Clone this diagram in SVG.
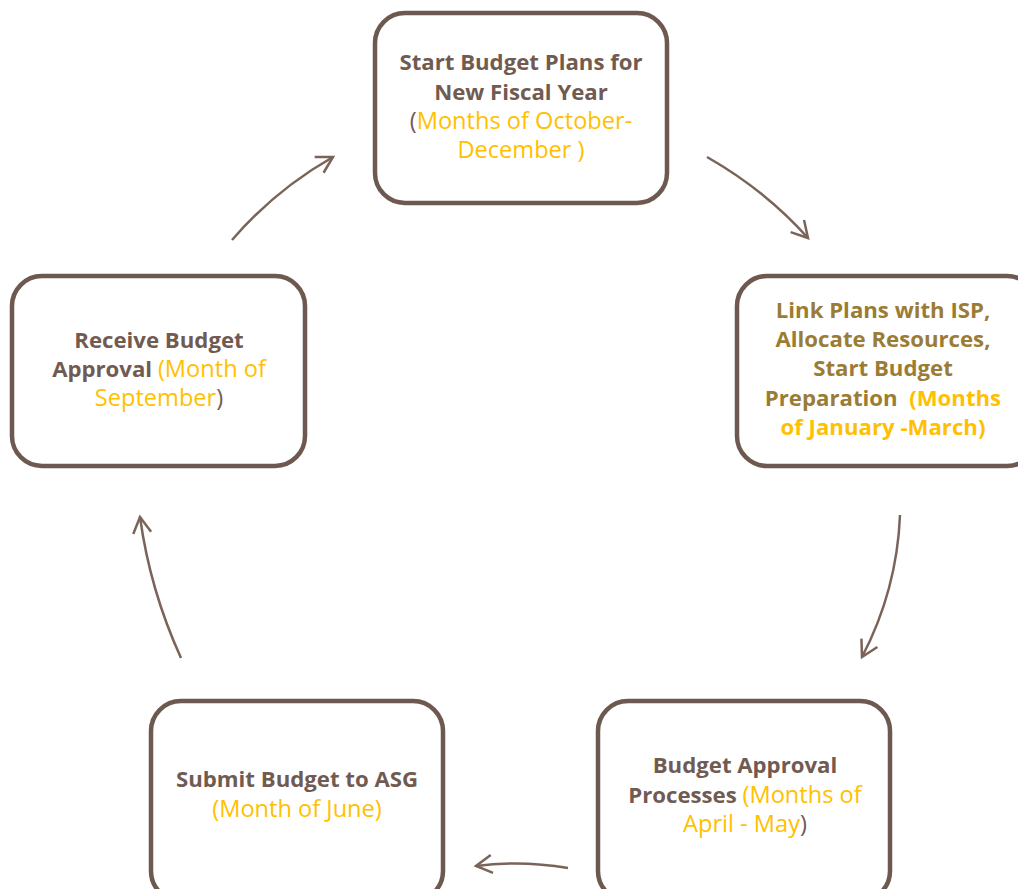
<svg xmlns="http://www.w3.org/2000/svg" width="1018" height="889" viewBox="0 0 1018 889">
<style>
.box{fill:#fff;stroke:#6e5950;stroke-width:4.5}
.t{font-family:"Open Sans",Lato,"Liberation Sans",sans-serif;font-size:22.2px;text-anchor:middle}
.b{font-weight:bold;fill:#715b51}
.y{fill:#ffc000;font-weight:normal;font-size:23.6px}
.g{font-weight:bold;fill:#9b7c34}
.yb{fill:#ffc000;font-weight:bold}
.p{fill:#715b51;font-weight:normal;font-size:23.6px}
.c{fill:none;stroke:#7a645a;stroke-width:2.5}
</style>
<defs>
<marker id="ah" markerUnits="userSpaceOnUse" markerWidth="24" markerHeight="24" viewBox="0 0 24 24" refX="20" refY="12" orient="auto">
<path d="M4,3 L20,12 L4,21" fill="none" stroke="#7a645a" stroke-width="2.5"/>
</marker>
</defs>
<rect width="1018" height="889" fill="#fff"/>
<g id="connectors">
<path class="c" d="M707,157 Q765,190 808,238" marker-end="url(#ah)"/>
<path class="c" d="M900,515 Q897,590 862,657" marker-end="url(#ah)"/>
<path class="c" d="M568,868 Q522,860 476,866" marker-end="url(#ah)"/>
<path class="c" d="M181,658 Q150,590 140,517" marker-end="url(#ah)"/>
<path class="c" d="M232,240 Q275,190 333,157" marker-end="url(#ah)"/>
</g>
<g id="node-start">
<rect class="box" x="375" y="13" width="292" height="190" rx="30"/>
<text class="t" x="521" y="70"><tspan class="b">Start Budget Plans for</tspan></text>
<text class="t" x="521" y="100"><tspan class="b">New Fiscal Year</tspan></text>
<text class="t" x="521" y="129"><tspan class="p">(</tspan><tspan class="y">Months of October-</tspan></text>
<text class="t" x="521" y="158"><tspan class="y">December )</tspan></text>
</g>
<g id="node-link">
<rect class="box" x="737" y="276" width="300" height="190" rx="30"/>
<text class="t" x="883" y="318"><tspan class="g">Link Plans with ISP,</tspan></text>
<text class="t" x="883" y="347"><tspan class="g">Allocate Resources,</tspan></text>
<text class="t" x="883" y="376"><tspan class="g">Start Budget</tspan></text>
<text class="t" x="883" y="406" xml:space="preserve"><tspan class="g">Preparation  </tspan><tspan class="yb">(Months</tspan></text>
<text class="t" x="883" y="435"><tspan class="yb">of January -March)</tspan></text>
</g>
<g id="node-approval">
<rect class="box" x="598" y="701" width="292" height="200" rx="30"/>
<text class="t" x="745" y="773"><tspan class="b">Budget Approval</tspan></text>
<text class="t" x="745" y="803"><tspan class="b">Processes </tspan><tspan class="y">(Months of</tspan></text>
<text class="t" x="745" y="832"><tspan class="y">April - May</tspan><tspan class="p">)</tspan></text>
</g>
<g id="node-submit">
<rect class="box" x="151" y="701" width="292" height="200" rx="30"/>
<text class="t" x="297" y="787"><tspan class="b">Submit Budget to ASG</tspan></text>
<text class="t" x="297" y="817"><tspan class="y">(Month of June)</tspan></text>
</g>
<g id="node-receive">
<rect class="box" x="12" y="276" width="293" height="190" rx="30"/>
<text class="t" x="159" y="348"><tspan class="b">Receive Budget</tspan></text>
<text class="t" x="159" y="377"><tspan class="b">Approval </tspan><tspan class="y">(Month of</tspan></text>
<text class="t" x="159" y="406"><tspan class="y">September</tspan><tspan class="p">)</tspan></text>
</g>
</svg>
